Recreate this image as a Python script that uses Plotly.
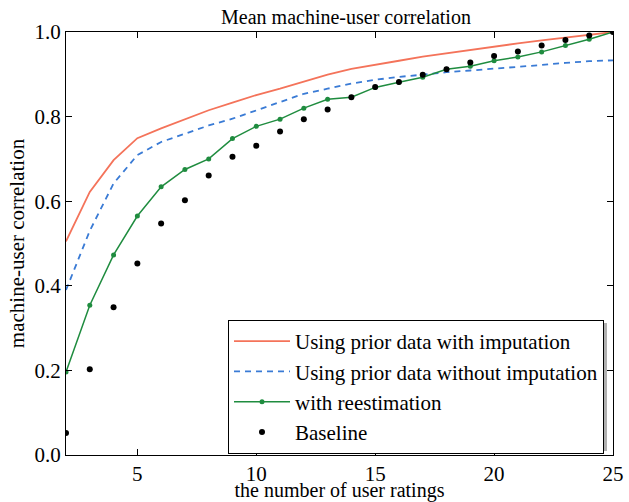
import plotly.graph_objects as go

ratings = list(range(2, 26))

with_imputation = [0.505, 0.622, 0.697, 0.749, 0.772, 0.793, 0.815, 0.833, 0.851, 0.866, 0.882,
                   0.899, 0.913, 0.922, 0.932, 0.942, 0.950, 0.958, 0.966, 0.973, 0.980,
                   0.987, 0.993, 1.0]
without_imputation = [0.39, 0.53, 0.642, 0.709, 0.740, 0.760, 0.779, 0.795, 0.815, 0.834, 0.854,
                      0.866, 0.878, 0.887, 0.894, 0.899, 0.905, 0.909, 0.913, 0.917, 0.922,
                      0.927, 0.931, 0.933]
with_reestimation = [0.196, 0.354, 0.473, 0.565, 0.634, 0.675, 0.700, 0.748, 0.777, 0.794, 0.820,
                     0.841, 0.846, 0.869, 0.881, 0.893, 0.912, 0.919, 0.932, 0.941, 0.953,
                     0.968, 0.983, 1.0]
baseline = [0.052, 0.203, 0.349, 0.453, 0.547, 0.602, 0.661, 0.705, 0.731, 0.765, 0.794,
            0.817, 0.846, 0.870, 0.882, 0.899, 0.912, 0.928, 0.943, 0.954, 0.968,
            0.981, 0.992, 1.0]

x_ticks = [5, 10, 15, 20, 25]
y_ticks = [0.0, 0.2, 0.4, 0.6, 0.8, 1.0]

FONT = "Liberation Serif"
FS = 21

fig = go.Figure()
fig.add_trace(go.Scatter(x=ratings, y=with_imputation, mode="lines",
                         name="Using prior data with imputation",
                         line=dict(color="#f4735a", width=1.8)))
fig.add_trace(go.Scatter(x=ratings, y=without_imputation, mode="lines",
                         name="Using prior data without imputation",
                         line=dict(color="#3a7bd5", width=1.8, dash="6px,5px")))
fig.add_trace(go.Scatter(x=ratings, y=with_reestimation, mode="lines+markers",
                         name="with reestimation",
                         line=dict(color="#1f8c3f", width=1.5),
                         marker=dict(color="#1f8c3f", size=5)))
fig.add_trace(go.Scatter(x=ratings, y=baseline, mode="markers",
                         name="Baseline",
                         marker=dict(color="black", size=6)))

axis_common = dict(showline=True, linecolor="black", linewidth=1.2, mirror="ticks",
                   ticks="inside", ticklen=6, tickcolor="black", showgrid=False,
                   zeroline=False, automargin=False,
                   tickfont=dict(family=FONT, size=FS, color="black"))

fig.update_xaxes(range=[2, 25], tickvals=x_ticks, ticktext=[str(v) for v in x_ticks],
                 title=dict(text="the number of user ratings", standoff=6,
                            font=dict(family=FONT, size=20, color="black")),
                 **axis_common)
fig.update_yaxes(range=[0, 1], tickvals=y_ticks, ticktext=[f"{v:.1f}" for v in y_ticks],
                 title=dict(text="machine-user correlation", standoff=4,
                            font=dict(family=FONT, size=FS, color="black")),
                 **axis_common)

# light shadow behind legend box
fig.add_shape(type="rect", xref="paper", yref="paper",
              x0=(231 - 66) / 547, x1=(607 - 66) / 547,
              y0=(455 - 451) / 423, y1=(455 - 323) / 423,
              fillcolor="#b0b0b0", line=dict(width=0), layer="above")

fig.update_layout(
    width=629, height=502,
    margin=dict(l=66, r=16, t=32, b=47),
    paper_bgcolor="white", plot_bgcolor="white",
    title=dict(text="Mean machine-user correlation", x=346 / 629, xanchor="center",
               y=1 - 17 / 502, yanchor="middle", xref="container", yref="container",
               font=dict(family=FONT, size=20, color="black")),
    showlegend=True,
    legend=dict(x=(228 - 66) / 547, y=(455 - 320) / 423, xanchor="left", yanchor="top",
                bgcolor="white", bordercolor="black", borderwidth=1,
                font=dict(family=FONT, size=FS, color="black"),
                tracegroupgap=0, itemwidth=56),
)

fig.write_html("out.html", config={"displayModeBar": False},
               post_script="document.body.style.margin='0';document.body.style.overflow='hidden';")
